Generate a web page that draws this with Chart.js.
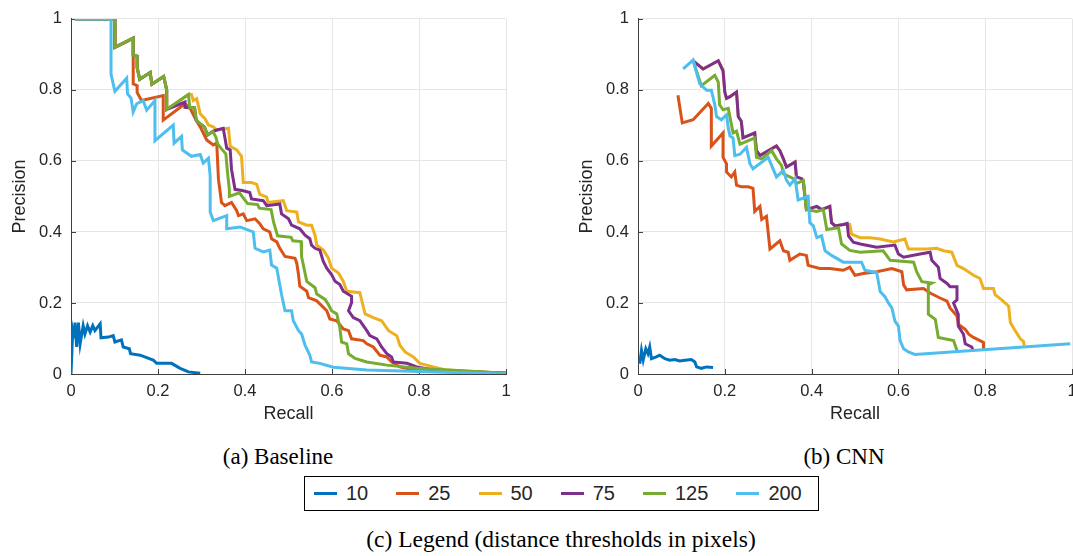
<!DOCTYPE html>
<html>
<head>
<meta charset="utf-8">
<script src="https://cdn.jsdelivr.net/npm/chart.js@4.4.1/dist/chart.umd.min.js"></script>
<style>
  body { margin: 0; width: 1073px; height: 556px; overflow: hidden; background: #fff; position: relative; }
  #boxA { position: absolute; left: 0; top: 0; }
  #boxB { position: absolute; left: 560px; top: 0; }
  .cap { position: absolute; font-family: "Liberation Serif", serif; font-size: 23px; color: #000; white-space: nowrap; transform: translate(-50%, -50%); }
  #legend { position: absolute; left: 304px; top: 476px; width: 504px; height: 33px; border: 1px solid #000;
            display: flex; align-items: center; padding-left: 9px; box-sizing: content-box;
            font-family: "Liberation Sans", sans-serif; font-size: 20px; color: #262626; }
  #legend .item { display: flex; align-items: center; margin-right: 28px; }
  #legend .sw { width: 23px; height: 3.5px; margin-right: 9px; }
</style>
</head>
<body>
<div id="boxA"><canvas id="chartA" width="520" height="430"></canvas></div>
<div id="boxB"><canvas id="chartB" width="530" height="430"></canvas></div>
<div class="cap" style="left:278px;top:457px">(a) Baseline</div>
<div class="cap" style="left:844px;top:457px">(b) CNN</div>
<div id="legend"></div>
<div class="cap" style="left:561px;top:539px;font-size:23.5px">(c) Legend (distance thresholds in pixels)</div>

<script>
// distance thresholds (pixels) and MATLAB default colours
var thresholds = ['10', '25', '50', '75', '125', '200'];
var colors = ['#0072BD', '#D95319', '#EDB120', '#7E2F8E', '#77AC30', '#4DBEEE'];
var ticksXY = [0, 0.2, 0.4, 0.6, 0.8, 1];

// (a) Baseline -- [recall, precision]
var base10 = [[0,0],[0.004,0.122],[0.007,0.104],[0.009,0.145],[0.013,0.076],[0.017,0.145],[0.021,0.085],[0.028,0.136],
  [0.032,0.113],[0.038,0.136],[0.044,0.118],[0.05,0.136],[0.055,0.122],[0.067,0.141],[0.069,0.102],[0.086,0.104],
  [0.097,0.108],[0.101,0.09],[0.116,0.096],[0.12,0.076],[0.134,0.071],[0.137,0.057],[0.159,0.053],[0.174,0.046],
  [0.189,0.039],[0.197,0.03],[0.231,0.03],[0.251,0.016],[0.27,0.006],[0.297,0.002]];
var base25 = [[0.009,1],[0.1,1],[0.101,0.92],[0.143,0.946],[0.143,0.817],[0.152,0.812],[0.152,0.793],[0.162,0.77],
  [0.212,0.784],[0.212,0.715],[0.262,0.761],[0.273,0.75],[0.288,0.714],[0.297,0.696],[0.312,0.659],[0.327,0.645],
  [0.335,0.65],[0.339,0.548],[0.346,0.483],[0.354,0.474],[0.369,0.483],[0.381,0.46],[0.385,0.446],[0.396,0.451],
  [0.404,0.432],[0.423,0.437],[0.434,0.423],[0.442,0.409],[0.457,0.4],[0.461,0.381],[0.473,0.372],[0.48,0.354],
  [0.492,0.331],[0.515,0.326],[0.519,0.312],[0.523,0.28],[0.526,0.247],[0.542,0.233],[0.546,0.215],[0.565,0.206],
  [0.588,0.178],[0.595,0.155],[0.611,0.15],[0.626,0.127],[0.638,0.122],[0.645,0.099],[0.672,0.094],[0.68,0.085],
  [0.695,0.076],[0.71,0.053],[0.726,0.048],[0.737,0.034],[0.756,0.02],[0.787,0.011],[1,0.002]];
var base50 = [[0.009,1],[0.1,1],[0.101,0.92],[0.143,0.946],[0.143,0.898],[0.152,0.895],[0.152,0.863],[0.158,0.83],
  [0.182,0.849],[0.186,0.816],[0.213,0.838],[0.22,0.8],[0.22,0.745],[0.27,0.787],[0.277,0.787],[0.281,0.77],
  [0.289,0.775],[0.297,0.733],[0.308,0.719],[0.316,0.701],[0.327,0.696],[0.335,0.687],[0.362,0.692],[0.366,0.641],
  [0.381,0.631],[0.392,0.613],[0.396,0.539],[0.415,0.539],[0.427,0.534],[0.434,0.506],[0.45,0.498],[0.453,0.483],
  [0.488,0.488],[0.496,0.46],[0.519,0.456],[0.523,0.428],[0.542,0.419],[0.553,0.419],[0.561,0.391],[0.565,0.363],
  [0.58,0.349],[0.592,0.326],[0.599,0.298],[0.615,0.284],[0.626,0.261],[0.634,0.233],[0.664,0.229],[0.676,0.169],
  [0.695,0.159],[0.714,0.15],[0.73,0.122],[0.749,0.108],[0.756,0.081],[0.768,0.062],[0.787,0.048],[0.802,0.03],
  [0.833,0.02],[0.864,0.011],[1,0.002]];
var base75 = [[0.009,1],[0.1,1],[0.101,0.92],[0.143,0.946],[0.143,0.898],[0.152,0.895],[0.152,0.863],[0.158,0.83],
  [0.182,0.849],[0.186,0.816],[0.213,0.838],[0.22,0.8],[0.22,0.745],[0.262,0.766],[0.262,0.751],[0.273,0.75],
  [0.284,0.75],[0.288,0.714],[0.296,0.706],[0.307,0.695],[0.314,0.673],[0.326,0.683],[0.335,0.687],[0.35,0.692],
  [0.358,0.636],[0.366,0.631],[0.369,0.576],[0.377,0.52],[0.396,0.516],[0.411,0.511],[0.415,0.493],[0.442,0.488],
  [0.45,0.474],[0.48,0.479],[0.484,0.451],[0.5,0.437],[0.507,0.419],[0.526,0.409],[0.538,0.391],[0.549,0.381],
  [0.553,0.363],[0.561,0.354],[0.572,0.349],[0.58,0.317],[0.588,0.298],[0.599,0.28],[0.607,0.261],[0.618,0.252],
  [0.626,0.233],[0.645,0.219],[0.645,0.201],[0.638,0.178],[0.649,0.159],[0.664,0.15],[0.68,0.122],[0.687,0.108],
  [0.703,0.099],[0.714,0.076],[0.726,0.057],[0.737,0.048],[0.741,0.034],[0.772,0.03],[0.795,0.02],[0.833,0.011],[1,0.002]];
var base125 = [[0.009,1],[0.1,1],[0.101,0.92],[0.143,0.946],[0.143,0.898],[0.152,0.895],[0.152,0.863],[0.158,0.83],
  [0.182,0.849],[0.186,0.816],[0.213,0.838],[0.22,0.8],[0.22,0.745],[0.27,0.787],[0.273,0.75],[0.284,0.75],
  [0.288,0.714],[0.296,0.706],[0.307,0.695],[0.314,0.673],[0.326,0.683],[0.333,0.667],[0.337,0.648],[0.346,0.634],
  [0.356,0.62],[0.36,0.565],[0.364,0.52],[0.364,0.5],[0.387,0.51],[0.406,0.48],[0.429,0.477],[0.433,0.467],
  [0.46,0.463],[0.466,0.426],[0.475,0.389],[0.506,0.385],[0.51,0.375],[0.529,0.373],[0.53,0.331],[0.542,0.261],
  [0.561,0.243],[0.565,0.225],[0.584,0.21],[0.592,0.195],[0.599,0.178],[0.611,0.169],[0.618,0.131],[0.622,0.09],
  [0.634,0.085],[0.638,0.057],[0.653,0.044],[0.68,0.034],[0.726,0.025],[0.795,0.016],[1,0.002]];
var base200 = [[0.009,1],[0.092,1],[0.092,0.844],[0.101,0.796],[0.128,0.833],[0.13,0.789],[0.138,0.777],[0.143,0.738],
  [0.151,0.761],[0.166,0.77],[0.174,0.743],[0.193,0.77],[0.193,0.657],[0.235,0.701],[0.237,0.65],[0.254,0.669],
  [0.256,0.631],[0.277,0.613],[0.297,0.618],[0.304,0.594],[0.316,0.608],[0.32,0.557],[0.32,0.456],[0.327,0.432],
  [0.358,0.446],[0.358,0.409],[0.389,0.414],[0.419,0.4],[0.423,0.354],[0.442,0.344],[0.457,0.349],[0.461,0.307],
  [0.473,0.298],[0.484,0.224],[0.492,0.178],[0.507,0.178],[0.511,0.15],[0.523,0.122],[0.53,0.113],[0.538,0.081],
  [0.549,0.053],[0.553,0.034],[0.572,0.03],[0.603,0.019],[0.68,0.011],[1,0]];

// (b) CNN -- [recall, precision]
var cnn10 = [[0.004,0.029],[0.008,0.066],[0.012,0.039],[0.018,0.071],[0.023,0.057],[0.027,0.076],[0.031,0.043],
  [0.042,0.048],[0.05,0.053],[0.062,0.043],[0.073,0.039],[0.085,0.041],[0.096,0.037],[0.108,0.039],[0.123,0.041],
  [0.131,0.034],[0.135,0.02],[0.146,0.016],[0.158,0.02],[0.173,0.018]];
var cnn25 = [[0.092,0.785],[0.102,0.707],[0.127,0.716],[0.162,0.762],[0.169,0.748],[0.169,0.642],[0.196,0.679],
  [0.196,0.61],[0.204,0.592],[0.204,0.569],[0.215,0.555],[0.223,0.569],[0.227,0.532],[0.238,0.527],[0.254,0.527],
  [0.265,0.523],[0.269,0.458],[0.281,0.472],[0.285,0.435],[0.296,0.444],[0.304,0.352],[0.327,0.375],[0.335,0.347],
  [0.346,0.343],[0.35,0.32],[0.373,0.338],[0.388,0.334],[0.392,0.306],[0.419,0.297],[0.442,0.297],[0.473,0.292],
  [0.488,0.301],[0.5,0.278],[0.519,0.283],[0.55,0.288],[0.585,0.297],[0.608,0.288],[0.612,0.251],[0.619,0.237],
  [0.658,0.241],[0.673,0.228],[0.696,0.214],[0.712,0.205],[0.719,0.186],[0.735,0.163],[0.738,0.14],[0.754,0.126],
  [0.762,0.112],[0.773,0.103],[0.796,0.089],[0.796,0.071]];
var cnn50 = [[0.127,0.882],[0.15,0.859],[0.185,0.882],[0.196,0.854],[0.2,0.794],[0.204,0.776],[0.212,0.781],
  [0.227,0.794],[0.231,0.725],[0.238,0.712],[0.242,0.665],[0.269,0.679],[0.273,0.629],[0.281,0.615],[0.319,0.642],
  [0.327,0.629],[0.335,0.606],[0.342,0.583],[0.362,0.597],[0.365,0.555],[0.377,0.55],[0.381,0.541],[0.388,0.463],
  [0.412,0.472],[0.423,0.463],[0.442,0.472],[0.446,0.426],[0.454,0.417],[0.473,0.421],[0.488,0.421],[0.492,0.394],
  [0.512,0.384],[0.535,0.384],[0.558,0.38],[0.588,0.372],[0.615,0.38],[0.623,0.352],[0.665,0.352],[0.688,0.354],
  [0.704,0.347],[0.723,0.343],[0.735,0.306],[0.75,0.297],[0.773,0.278],[0.788,0.269],[0.796,0.241],[0.819,0.241],
  [0.823,0.223],[0.838,0.209],[0.854,0.191],[0.858,0.145],[0.869,0.122],[0.881,0.099],[0.888,0.092],[0.89,0.08]];
var cnn75 = [[0.127,0.882],[0.15,0.859],[0.185,0.882],[0.196,0.854],[0.2,0.794],[0.204,0.776],[0.212,0.781],
  [0.227,0.794],[0.231,0.725],[0.238,0.712],[0.242,0.665],[0.269,0.679],[0.273,0.629],[0.281,0.615],[0.319,0.642],
  [0.327,0.629],[0.335,0.606],[0.342,0.583],[0.362,0.597],[0.365,0.555],[0.377,0.55],[0.381,0.541],[0.388,0.463],
  [0.412,0.472],[0.423,0.463],[0.442,0.472],[0.446,0.426],[0.454,0.417],[0.473,0.421],[0.482,0.424],[0.485,0.389],
  [0.496,0.371],[0.512,0.366],[0.55,0.357],[0.592,0.363],[0.6,0.338],[0.612,0.329],[0.65,0.338],[0.673,0.343],
  [0.677,0.32],[0.692,0.301],[0.696,0.269],[0.712,0.255],[0.719,0.246],[0.735,0.246],[0.735,0.209],[0.727,0.2],
  [0.738,0.168],[0.738,0.135],[0.75,0.112],[0.754,0.085],[0.769,0.076],[0.772,0.066]];
var cnn125 = [[0.127,0.882],[0.146,0.812],[0.177,0.841],[0.185,0.822],[0.188,0.758],[0.196,0.744],[0.208,0.748],
  [0.219,0.679],[0.227,0.684],[0.235,0.647],[0.269,0.665],[0.273,0.61],[0.285,0.606],[0.308,0.629],[0.319,0.606],
  [0.331,0.587],[0.335,0.564],[0.358,0.55],[0.365,0.536],[0.381,0.545],[0.388,0.463],[0.412,0.458],[0.427,0.463],
  [0.435,0.407],[0.462,0.412],[0.469,0.366],[0.488,0.348],[0.512,0.343],[0.565,0.347],[0.581,0.32],[0.635,0.315],
  [0.642,0.288],[0.654,0.26],[0.677,0.256],[0.669,0.251],[0.669,0.168],[0.685,0.154],[0.692,0.103],[0.727,0.094],
  [0.735,0.066]];
var cnn200 = [[0.104,0.859],[0.127,0.884],[0.142,0.818],[0.158,0.799],[0.169,0.799],[0.177,0.758],[0.181,0.725],
  [0.192,0.716],[0.204,0.73],[0.208,0.693],[0.212,0.67],[0.219,0.665],[0.223,0.615],[0.235,0.619],[0.25,0.638],
  [0.258,0.592],[0.265,0.578],[0.3,0.61],[0.308,0.587],[0.319,0.555],[0.335,0.573],[0.342,0.546],[0.35,0.532],
  [0.362,0.55],[0.369,0.49],[0.392,0.5],[0.396,0.426],[0.404,0.417],[0.412,0.384],[0.423,0.389],[0.431,0.347],
  [0.446,0.334],[0.473,0.315],[0.515,0.315],[0.523,0.292],[0.55,0.286],[0.558,0.232],[0.569,0.218],[0.577,0.2],
  [0.585,0.186],[0.592,0.149],[0.6,0.135],[0.604,0.094],[0.612,0.071],[0.623,0.062],[0.638,0.055],[0.996,0.085]];

var baselineSeries = [base10, base25, base50, base75, base125, base200];
var cnnSeries = [cnn10, cnn25, cnn50, cnn75, cnn125, cnn200];

var axisColor = '#404040';
var textColor = '#262626';

// small inward tick marks like matlab
var innerTicks = {
  id: 'innerTicks',
  beforeDatasetsDraw: function(chart) {
    var ctx = chart.ctx, area = chart.chartArea, sx = chart.scales.x, sy = chart.scales.y;
    ctx.save();
    ctx.strokeStyle = axisColor;
    ctx.lineWidth = 1;
    ctx.beginPath();
    sx.ticks.forEach(function(t) {
      var px = Math.round(sx.getPixelForValue(t.value)) + 0.5;
      ctx.moveTo(px, area.bottom); ctx.lineTo(px, area.bottom - 5);
    });
    sy.ticks.forEach(function(t) {
      var py = Math.round(sy.getPixelForValue(t.value)) + 0.5;
      ctx.moveTo(area.left, py); ctx.lineTo(area.left + 5, py);
    });
    ctx.stroke();
    ctx.restore();
  }
};

function tickText(v) {
  return String(Math.round(v * 10) / 10);
}

function makeChart(id, series, yWidth, padTop, padRight, yTitlePad) {
  var datasets = [];
  for (var i = 0; i < series.length; i++) {
    datasets.push({
      label: thresholds[i],
      data: series[i].map(function(p) { return {x: p[0], y: p[1]}; }),
      borderColor: colors[i],
      backgroundColor: colors[i],
      borderWidth: 3,
      pointRadius: 0,
      tension: 0,
      order: series.length - i
    });
  }
  return new Chart(document.getElementById(id), {
    type: 'line',
    data: { datasets: datasets },
    plugins: [innerTicks],
    options: {
      responsive: false,
      animation: false,
      layout: { padding: { top: padTop, right: padRight, left: 0, bottom: 0 } },
      plugins: { legend: { display: false }, tooltip: { enabled: false } },
      scales: {
        x: {
          type: 'linear', min: 0, max: 1,
          afterBuildTicks: function(s) { s.ticks = ticksXY.map(function(v) { return {value: v}; }); },
          afterFit: function(s) { s.height = 56; },
          grid: { color: '#e6e6e6', drawTicks: false },
          border: { color: axisColor, width: 1 },
          ticks: { padding: 8, color: textColor, font: { family: 'Liberation Sans', size: 16.5 }, maxRotation: 0,
                   callback: tickText },
          title: { display: true, text: 'Recall', color: textColor, padding: { top: 0, bottom: 5 },
                   font: { family: 'Liberation Sans', size: 18 } }
        },
        y: {
          min: 0, max: 1,
          afterBuildTicks: function(s) { s.ticks = ticksXY.map(function(v) { return {value: v}; }); },
          afterFit: function(s) { s.width = yWidth; },
          grid: { color: '#e6e6e6', drawTicks: false },
          border: { color: axisColor, width: 1 },
          ticks: { padding: 9, color: textColor, font: { family: 'Liberation Sans', size: 16.5 }, callback: tickText },
          title: { display: true, text: 'Precision', color: textColor, padding: { top: yTitlePad, bottom: 0 },
                   font: { family: 'Liberation Sans', size: 18 } }
        }
      }
    }
  });
}

makeChart('chartA', baselineSeries, 71, 14, 14, 9);
makeChart('chartB', cnnSeries, 78, 12, 18, 16);

// shared legend box
var legend = document.getElementById('legend');
thresholds.forEach(function(t, i) {
  var item = document.createElement('div');
  item.className = 'item';
  var sw = document.createElement('span');
  sw.className = 'sw';
  sw.style.background = colors[i];
  var lab = document.createElement('span');
  lab.textContent = t;
  item.appendChild(sw);
  item.appendChild(lab);
  legend.appendChild(item);
});
</script>
</body>
</html>
